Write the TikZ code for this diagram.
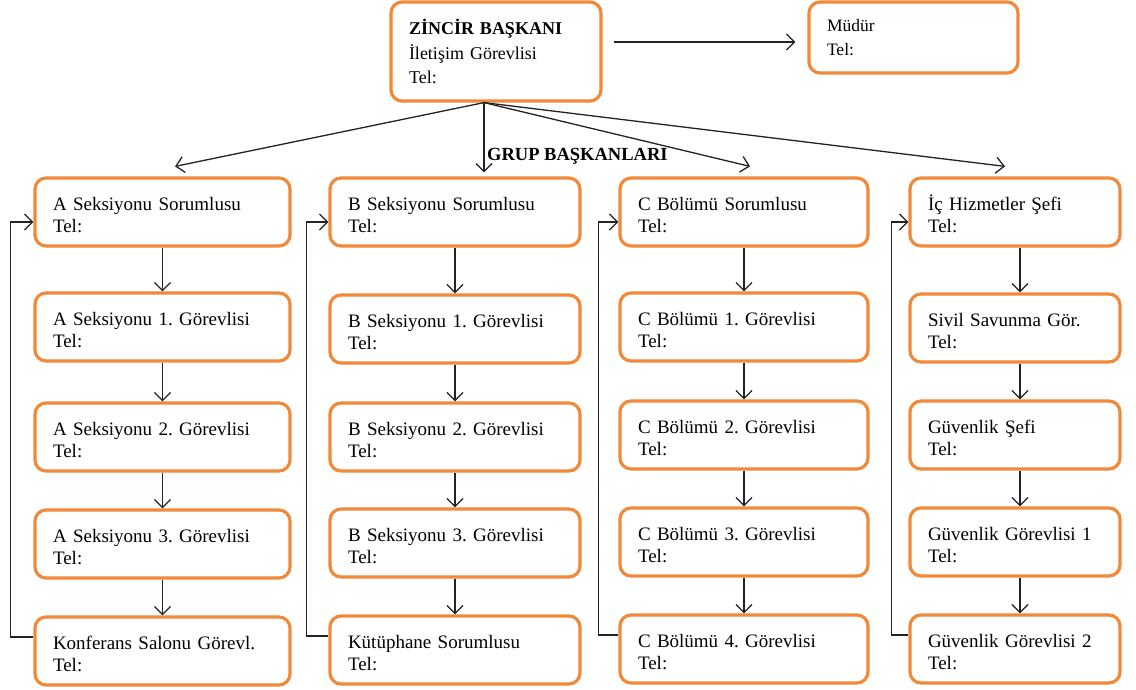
\documentclass[tikz,border=0pt]{standalone}
\usepackage{fontspec}
\setmainfont{Liberation Serif}
\usetikzlibrary{arrows.meta,calc}
\definecolor{boxorange}{RGB}{240,138,58}
\definecolor{lineblack}{RGB}{35,35,35}
\begin{document}
\frenchspacing
\begin{tikzpicture}[x=1pt,y=-1pt,
  font=\fontsize{19}{22}\selectfont,
  box/.style={draw=boxorange, line width=3.2pt, rounded corners=11pt, fill=white,
    align=left, minimum height=68pt, inner xsep=18pt, inner ysep=3pt},
  rowbox/.style={box, execute at begin node={\rule{0pt}{19pt}}},
  colA/.style={rowbox, text width=219pt},
  colB/.style={rowbox, text width=214pt},
  colC/.style={rowbox, text width=212pt},
  colD/.style={rowbox, text width=174pt},
  arr/.style={draw=lineblack, line width=1.3pt, -{Straight Barb[length=8pt,width=16pt]}},
]
\useasboundingbox[fill=white] (0,0) rectangle (1136,690);

% top
\node[box, text width=174pt, minimum height=99pt, font=\fontsize{18}{24.5}\selectfont] (top) at (496,51.5)
  {\textbf{ZİNCİR BAŞKANI}\\İletişim Görevlisi\\Tel:};
\node[box, text width=173pt, minimum height=71pt, font=\fontsize{17.5}{24}\selectfont] (mud) at (913.5,37.5)
  {Müdür\\Tel:};
\node[font=\bfseries\fontsize{18.5}{20}\selectfont, anchor=west, inner sep=0pt] (grup) at (487,156) {GRUP BAŞKANLARI};

% column A
\node[colA] (a1) at (162.5,212) {A Seksiyonu Sorumlusu\\Tel:};
\node[colA] (a2) at (162.5,327) {A Seksiyonu 1. Görevlisi\\Tel:};
\node[colA] (a3) at (162.5,437) {A Seksiyonu 2. Görevlisi\\Tel:};
\node[colA] (a4) at (162.5,544) {A Seksiyonu 3. Görevlisi\\Tel:};
\node[colA] (a5) at (162.5,651) {Konferans Salonu Görevl.\\Tel:};
% column B
\node[colB] (b1) at (455,212) {B Seksiyonu Sorumlusu\\Tel:};
\node[colB] (b2) at (455,329) {B Seksiyonu 1. Görevlisi\\Tel:};
\node[colB] (b3) at (455,437) {B Seksiyonu 2. Görevlisi\\Tel:};
\node[colB] (b4) at (455,543) {B Seksiyonu 3. Görevlisi\\Tel:};
\node[colB] (b5) at (455,650) {Kütüphane Sorumlusu\\Tel:};
% column C
\node[colC] (c1) at (744,212) {C Bölümü Sorumlusu\\Tel:};
\node[colC] (c2) at (744,327) {C Bölümü 1. Görevlisi\\Tel:};
\node[colC] (c3) at (744,435) {C Bölümü 2. Görevlisi\\Tel:};
\node[colC] (c4) at (744,542) {C Bölümü 3. Görevlisi\\Tel:};
\node[colC] (c5) at (744,649) {C Bölümü 4. Görevlisi\\Tel:};
% column D
\node[colD] (d1) at (1015,212) {İç Hizmetler Şefi\\Tel:};
\node[colD] (d2) at (1015,328) {Sivil Savunma Gör.\\Tel:};
\node[colD] (d3) at (1015,435) {Güvenlik Şefi\\Tel:};
\node[colD] (d4) at (1015,542) {Güvenlik Görevlisi 1\\Tel:};
\node[colD] (d5) at (1015,649) {Güvenlik Görevlisi 2\\Tel:};

% top arrows
\coordinate (fan) at ([xshift=-12pt]top.south);
\draw[arr] ([xshift=11pt,yshift=9.5pt]top.east) -- ([xshift=-12pt,yshift=-4.5pt]mud.west);
\draw[arr] (fan) -- ([xshift=12.5pt,yshift=10pt]a1.north);
\draw[arr] (fan) -- ([xshift=29pt,yshift=4pt]b1.north);
\draw[arr] (fan) -- ([xshift=6pt,yshift=10pt]c1.north);
\draw[arr] (fan) -- ([xshift=-10pt,yshift=10pt]d1.north);

% vertical chains
\foreach \c in {a,b,c}{
  \draw[arr] (\c1.south) -- (\c2.north);
  \draw[arr] (\c2.south) -- (\c3.north);
  \draw[arr] (\c3.south) -- (\c4.north);
  \draw[arr] (\c4.south) -- (\c5.north);
}
\draw[arr] ([xshift=5pt]d1.south) -- ([xshift=5pt]d2.north);
\draw[arr] ([xshift=5pt]d2.south) -- ([xshift=5pt]d3.north);
\draw[arr] ([xshift=5pt]d3.south) -- ([xshift=5pt]d4.north);
\draw[arr] ([xshift=5pt]d4.south) -- ([xshift=5pt]d5.north);

% feedback loops
\draw[arr] ([yshift=14pt]a5.west) -- ++(-23,0) |- ([yshift=-10pt]a1.west);
\draw[arr] ([yshift=14pt]b5.west) -- ++(-22,0) |- ([yshift=-10pt]b1.west);
\draw[arr] ([yshift=14pt]c5.west) -- ++(-20,0) |- ([yshift=-10pt]c1.west);
\draw[arr] ([yshift=14pt]d5.west) -- ++(-17,0) |- ([yshift=-10pt]d1.west);
\end{tikzpicture}
\end{document}
